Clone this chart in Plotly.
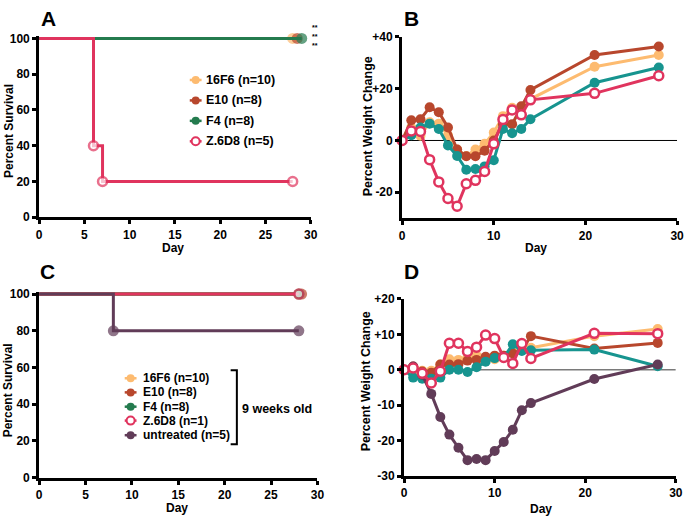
import plotly.graph_objects as go

# ---------------- data ----------------
days = [0, 1, 2, 3, 4, 5, 6, 7, 8, 9, 10, 11, 12, 13, 14, 21, 28]

# Panel A – survival
A_16F6_days = [0, 28]
A_16F6_surv = [100, 100]
A_E10_days = [0, 28.5]
A_E10_surv = [100, 100]
A_F4_days = [0, 29]
A_F4_surv = [100, 100]
A_Z6D8_days = [0, 6, 7, 28]
A_Z6D8_surv = [100, 40, 20, 20]

# Panel B – weight change
B_16F6 = [0, 5, 1.8, 7, 6.5, 2, -3.5, -6, -3.5, -1.3, 3.1, 9.4, 12.6, 12, 16, 28.5, 33]
B_E10 = [0, 7.8, 8.2, 12.8, 10.9, 5, -3.5, -6.1, -6.1, -4, 0, 6.3, 6.3, 13.2, 19.5, 33, 36.3]
B_F4 = [0, 2, 5, 6.5, 4.4, -1.9, -6, -11.3, -11, -10, -7.6, 4.4, 2.8, 4.4, 8.2, 22.3, 28.2]
B_Z6D8 = [0, 3.7, 3.5, -7.4, -16, -22.4, -25.4, -16.7, -15.4, -12, -1.3, 8.1, 11.8, 9.9, 15.7, 18.2, 25]

# Panel C – survival (9 weeks old)
C_16F6_days = [0, 28]
C_16F6_surv = [100, 100]
C_E10_days = [0, 28.3]
C_E10_surv = [100, 100]
C_F4_days = [0, 28]
C_F4_surv = [100, 100]
C_Z6D8_days = [0, 28]
C_Z6D8_surv = [100, 100]
C_untr_days = [0, 8, 28]
C_untr_surv = [100, 80, 80]

# Panel D – weight change (9 weeks old)
D_16F6 = [0, -0.5, -0.3, -0.3, 1.5, 3, 2.8, 3.5, 4, 3.2, 3, 4, 5, 5.5, 6.2, 9.5, 11.5]
D_E10 = [0, 0.9, -0.5, -0.8, 1.5, 1.5, 1.6, 2.6, 2.8, 3.7, 4, 4, 4.6, 5.5, 9.5, 6, 7.6]
D_F4 = [0, -2.2, -2.5, -2.5, -2.2, 0, 0, -0.6, 0.7, 2.3, 3.3, 3.5, 7.2, 5.3, 5.5, 5.7, 1]
D_untr = [0, 0.9, -1.4, -6.8, -13.3, -18.3, -22, -25.5, -25.2, -25.5, -22.9, -20.4, -16.9, -11.4, -9.4, -2.6, 1.5]
D_Z6D8 = [0, 0.5, -1, -3.7, -0.4, 7.5, 7.5, 5.2, 6.4, 9.8, 8.8, 3.5, 1.8, 7.4, 3.2, 10.3, 10.2]

legend_A = ["16F6 (n=10)", "E10 (n=8)", "F4 (n=8)", "Z.6D8 (n=5)"]
legend_C = ["16F6 (n=10)", "E10 (n=8)", "F4 (n=8)", "Z.6D8 (n=1)", "untreated (n=5)"]

surv_ticks = [0, 20, 40, 60, 80, 100]
day_ticks_surv = [0, 5, 10, 15, 20, 25, 30]
day_ticks_wt = [0, 10, 20, 30]
B_ticks = [-20, 0, 20, 40]
B_ticktext = ["-20", "0", "+20", "+40"]
D_ticks = [-30, -20, -10, 0, 10, 20]
D_ticktext = ["-30", "-20", "-10", "0", "+10", "+20"]

# ---------------- styles ----------------
ORANGE = "#FDBB70"
BROWN = "#B8472D"
GREEN = "#247B4E"
TEAL = "#17948F"
PINK = "#E0345E"
PURPLE = "#613C58"
FONT = "Liberation Sans, Arial, sans-serif"

W, H = 690, 522


def fx(p):
    return p / W


def fy(p):
    return 1 - p / H


fig = go.Figure()


def filled(x, y, color, xa, ya, msize=10, lw=3, shape="linear", sizes=None):
    fig.add_trace(go.Scatter(
        x=x, y=y, mode="lines+markers", xaxis=xa, yaxis=ya,
        line=dict(color=color, width=lw, shape=shape),
        marker=dict(color=color, size=sizes if sizes else msize, symbol="circle",
                    line=dict(width=0)),
        cliponaxis=False, showlegend=False, hoverinfo="skip"))


def opened(x, y, color, xa, ya, msize=9, lw=3, shape="linear", sizes=None):
    fig.add_trace(go.Scatter(
        x=x, y=y, mode="lines+markers", xaxis=xa, yaxis=ya,
        line=dict(color=color, width=lw, shape=shape),
        marker=dict(color="white", size=sizes if sizes else msize, symbol="circle",
                    line=dict(width=2.5, color=color)),
        cliponaxis=False, showlegend=False, hoverinfo="skip"))


# Panel A
filled(A_16F6_days, A_16F6_surv, ORANGE, "x", "y", sizes=[0, 11], shape="hv")
filled(A_E10_days, A_E10_surv, BROWN, "x", "y", sizes=[0, 11], shape="hv")
filled(A_F4_days, A_F4_surv, GREEN, "x", "y", sizes=[0, 11], shape="hv")
opened(A_Z6D8_days, A_Z6D8_surv, PINK, "x", "y", sizes=[0, 9, 9, 9], shape="hv")

# Panel B
filled(days, B_16F6, ORANGE, "x2", "y2")
filled(days, B_E10, BROWN, "x2", "y2")
filled(days, B_F4, TEAL, "x2", "y2")
opened(days, B_Z6D8, PINK, "x2", "y2")

# Panel C
filled(C_16F6_days, C_16F6_surv, ORANGE, "x3", "y3", sizes=[0, 11], shape="hv")
filled(C_E10_days, C_E10_surv, BROWN, "x3", "y3", sizes=[0, 11], shape="hv")
filled(C_F4_days, C_F4_surv, GREEN, "x3", "y3", sizes=[0, 11], shape="hv")
opened(C_Z6D8_days, C_Z6D8_surv, PINK, "x3", "y3", sizes=[0, 9], shape="hv")
filled(C_untr_days, C_untr_surv, PURPLE, "x3", "y3", sizes=[0, 11, 11], shape="hv")

# Panel D
filled(days, D_16F6, ORANGE, "x4", "y4")
filled(days, D_E10, BROWN, "x4", "y4")
filled(days, D_F4, TEAL, "x4", "y4")
filled(days, D_untr, PURPLE, "x4", "y4")
opened(days, D_Z6D8, PINK, "x4", "y4")

tickfont = dict(family=FONT, size=12, color="black", weight="bold")
axis_common = dict(showline=True, linecolor="black", linewidth=3, ticks="outside",
                   ticklen=4, tickwidth=2.5, tickcolor="black", showgrid=False,
                   zeroline=False, tickfont=tickfont, fixedrange=True)

SURV_TOP = 101.2
A_top_px = 216 - (216 - 32.3) / 100 * SURV_TOP
C_top_px = 483.7 - (483.7 - 295) / 100 * SURV_TOP

layout = dict(
    width=W, height=H, margin=dict(l=0, r=0, t=0, b=0),
    paper_bgcolor="white", plot_bgcolor="rgba(0,0,0,0)",
    font=dict(family=FONT, color="black", weight="bold"),
    showlegend=False,
    xaxis=dict(domain=[fx(36.7), fx(312.3)], range=[0, 30], tickvals=day_ticks_surv,
               anchor="y", **axis_common),
    yaxis=dict(domain=[fy(216), fy(A_top_px)], range=[0, SURV_TOP], tickvals=surv_ticks,
               anchor="x", **axis_common),
    xaxis2=dict(domain=[fx(405), fx(684)], range=[0, 30], tickvals=day_ticks_wt,
                anchor="y2", **axis_common),
    yaxis2=dict(domain=[fy(217), fy(30.7)], range=[-30, 40], tickvals=B_ticks,
                ticktext=B_ticktext, anchor="x2", **axis_common),
    xaxis3=dict(domain=[fx(36.7), fx(319)], range=[0, 30], tickvals=day_ticks_surv,
                anchor="y3", **axis_common),
    yaxis3=dict(domain=[fy(483.7), fy(C_top_px)], range=[0, SURV_TOP], tickvals=surv_ticks,
                anchor="x3", **axis_common),
    xaxis4=dict(domain=[fx(407), fx(682.7)], range=[0, 30], tickvals=day_ticks_wt,
                anchor="y4", **axis_common),
    yaxis4=dict(domain=[fy(482), fy(300)], range=[-30, 20], tickvals=D_ticks,
                ticktext=D_ticktext, anchor="x4", **axis_common),
)
fig.update_layout(**layout)

shapes = []
# zero reference lines in weight panels
shapes.append(dict(type="line", xref="x2", yref="y2", x0=0, x1=30, y0=0, y1=0,
                   line=dict(color="black", width=1), layer="below"))
shapes.append(dict(type="line", xref="x4", yref="y4", x0=0, x1=30, y0=0, y1=0,
                   line=dict(color="#7a7a7a", width=1.5), layer="below"))

annotations = []


def ann(text, x, y, size, xanchor="center", yanchor="middle", angle=0):
    annotations.append(dict(text=text, x=fx(x), y=fy(y), xref="paper", yref="paper",
                            showarrow=False, xanchor=xanchor, yanchor=yanchor,
                            textangle=angle, borderpad=0,
                            font=dict(family=FONT, size=size, color="black", weight="bold")))


# panel letters
ann("A", 46, 12, 21)
ann("B", 414, 12, 21)
ann("C", 45, 272, 21)
ann("D", 415, 272, 21)

# axis titles
ann("Percent Survival", 6, 127.5, 12, angle=-90)
ann("Day", 172, 248, 12)
ann("Percent Weight Change", 370, 123, 12.5, angle=-90)
ann("Day", 541, 248, 12)
ann("Percent Survival", 6, 394, 12, angle=-90)
ann("Day", 177, 515, 12)
ann("Percent Weight Change", 368, 385, 12.5, angle=-90)
ann("Day", 546, 516, 12)

# significance stars
ann("**<br>**<br>**", 317, 30, 7)


def legend_symbol(cx, cy, color, open_=False):
    shapes.append(dict(type="line", xref="paper", yref="paper",
                       x0=fx(cx - 6), x1=fx(cx + 6), y0=fy(cy), y1=fy(cy),
                       line=dict(color=color, width=2.5)))
    shapes.append(dict(type="circle", xref="paper", yref="paper",
                       xsizemode="pixel", ysizemode="pixel",
                       xanchor=fx(cx), yanchor=fy(cy),
                       x0=-4, x1=4, y0=-4, y1=4,
                       fillcolor="white" if open_ else color,
                       line=dict(color=color, width=2 if open_ else 0)))


# legend A
legA_colors = [ORANGE, BROWN, GREEN, PINK]
legA_y = [75, 96, 117, 138]
for i, (lab, col, yy) in enumerate(zip(legend_A, legA_colors, legA_y)):
    legend_symbol(195.5, yy, col, open_=(i == 3))
    ann(lab, 205, yy, 12.5, xanchor="left")

# legend C
legC_colors = [ORANGE, BROWN, GREEN, PINK, PURPLE]
legC_y = [381.5, 396, 410.7, 425, 440]
for i, (lab, col, yy) in enumerate(zip(legend_C, legC_colors, legC_y)):
    legend_symbol(129.5, yy, col, open_=(i == 3))
    ann(lab, 141.5, yy, 12, xanchor="left")

# bracket and group label
shapes.append(dict(type="path", xref="paper", yref="paper",
                   path=f"M {fx(231)},{fy(373.3)} L {fx(237.3)},{fy(373.3)} L {fx(237.3)},{fy(449.3)} L {fx(231)},{fy(449.3)}",
                   line=dict(color="black", width=2)))
ann("9 weeks old", 241.5, 413, 12.5, xanchor="left")

fig.update_layout(shapes=shapes, annotations=annotations)

fig.write_html("out.html", config={"displayModeBar": False},
               post_script="document.body.style.margin='0px';")
